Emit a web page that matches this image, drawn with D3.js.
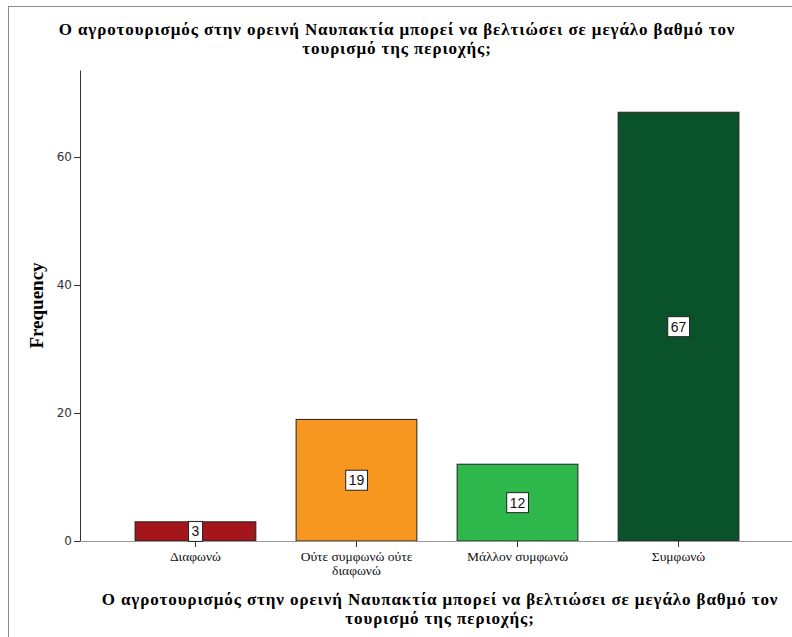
<!DOCTYPE html>
<html>
<head>
<meta charset="utf-8">
<script src="https://cdn.jsdelivr.net/npm/d3@7"></script>
<style>
  body { margin: 0; background: #fff; }
  svg { display: block; }
</style>
</head>
<body>
<div id="chart"></div>
<script>
const categories = ['Διαφωνώ', 'Ούτε συμφωνώ ούτε διαφωνώ', 'Μάλλον συμφωνώ', 'Συμφωνώ'];
const categoryLines = [['Διαφωνώ'], ['Ούτε συμφωνώ ούτε', 'διαφωνώ'], ['Μάλλον συμφωνώ'], ['Συμφωνώ']];
const frequencies = [3, 19, 12, 67];
const barColors = ['#a3161c', '#f7971f', '#2eb84b', '#0a5229'];
const yTicks = [0, 20, 40, 60];
const titleLines = ['Ο αγροτουρισμός στην ορεινή Ναυπακτία μπορεί να βελτιώσει σε μεγάλο βαθμό τον', 'τουρισμό της περιοχής;'];

const W = 792, H = 637;
const x0 = 80, yBase = 541, yTop = 70;

const svg = d3.select('#chart').append('svg')
  .attr('width', W).attr('height', H);

// outer frame
svg.append('rect')
  .attr('x', 8.5).attr('y', 6.5)
  .attr('width', W + 20).attr('height', H + 20)
  .attr('fill', 'none').attr('stroke', '#8c8c8c');

const x = d3.scaleBand()
  .domain(categories)
  .range([x0, 794])
  .paddingInner(0.25)
  .paddingOuter(0.342);

const y = d3.scaleLinear().domain([0, 73.6]).range([yBase, yTop]);

// bars
svg.selectAll('.bar')
  .data(frequencies)
  .join('rect')
  .attr('class', 'bar')
  .attr('x', (d, i) => x(categories[i]))
  .attr('y', d => y(d))
  .attr('width', x.bandwidth())
  .attr('height', d => yBase - y(d))
  .attr('fill', (d, i) => barColors[i])
  .attr('stroke', '#222')
  .attr('stroke-width', 1);

// y axis
const yAxis = svg.append('g')
  .attr('transform', `translate(${x0},0)`)
  .call(d3.axisLeft(y).tickValues(yTicks).tickSize(6).tickPadding(2).tickSizeOuter(0));
yAxis.select('.domain').attr('stroke', '#333');
yAxis.selectAll('.tick line').attr('stroke', '#333');
yAxis.selectAll('.tick text')
  .attr('font-family', 'DejaVu Sans, sans-serif')
  .attr('font-size', 12).attr('fill', '#333');

// x axis
const xAxis = svg.append('g')
  .attr('transform', `translate(0,${yBase})`)
  .call(d3.axisBottom(x).tickSize(6).tickSizeOuter(0).tickFormat(''));
xAxis.select('.domain').attr('stroke', '#999');
xAxis.selectAll('.tick line').attr('stroke', '#333');

// category labels
svg.selectAll('.cat')
  .data(categories)
  .join('text')
  .attr('class', 'cat')
  .attr('text-anchor', 'middle')
  .attr('font-family', 'Liberation Serif, serif')
  .attr('font-size', 13.5)
  .attr('fill', '#111')
  .each(function (d, i) {
    const t = d3.select(this);
    categoryLines[i].forEach((line, j) => {
      t.append('tspan')
        .attr('x', x(d) + x.bandwidth() / 2)
        .attr('y', 561 + j * 14)
        .text(line);
    });
  });

// value labels
const labels = svg.selectAll('.val')
  .data(frequencies)
  .join('g')
  .attr('class', 'val')
  .attr('transform', (d, i) => `translate(${x(categories[i]) + x.bandwidth() / 2},${(y(d) + yBase) / 2})`);
labels.append('text')
  .attr('text-anchor', 'middle')
  .attr('dy', '0.36em')
  .attr('font-family', 'Liberation Sans, sans-serif')
  .attr('font-size', 14)
  .attr('fill', '#111')
  .text(d => d);
labels.each(function () {
  const g = d3.select(this);
  const bb = g.select('text').node().getBBox();
  g.insert('rect', 'text')
    .attr('x', bb.x - 3).attr('y', bb.y - 2)
    .attr('width', bb.width + 6).attr('height', bb.height + 4)
    .attr('fill', '#fff').attr('stroke', '#222');
});

// two-line bold titles (top and x axis), as separate text elements
function titleBlock(cx, y0) {
  titleLines.forEach((line, j) => {
    svg.append('text')
      .attr('x', cx).attr('y', y0 + j * 19)
      .attr('text-anchor', 'middle')
      .attr('font-family', 'Liberation Serif, serif')
      .attr('font-weight', 'bold')
      .attr('font-size', 17)
      .attr('letter-spacing', 0.9)
      .attr('fill', '#000')
      .text(line);
  });
}
titleBlock(397, 35);
titleBlock(440, 605);

// y axis title
svg.append('text')
  .attr('transform', `translate(43,${(yBase + yTop) / 2}) rotate(-90)`)
  .attr('text-anchor', 'middle')
  .attr('font-family', 'Liberation Serif, serif')
  .attr('font-weight', 'bold')
  .attr('font-size', 19)
  .attr('fill', '#000')
  .text('Frequency');
</script>
</body>
</html>
